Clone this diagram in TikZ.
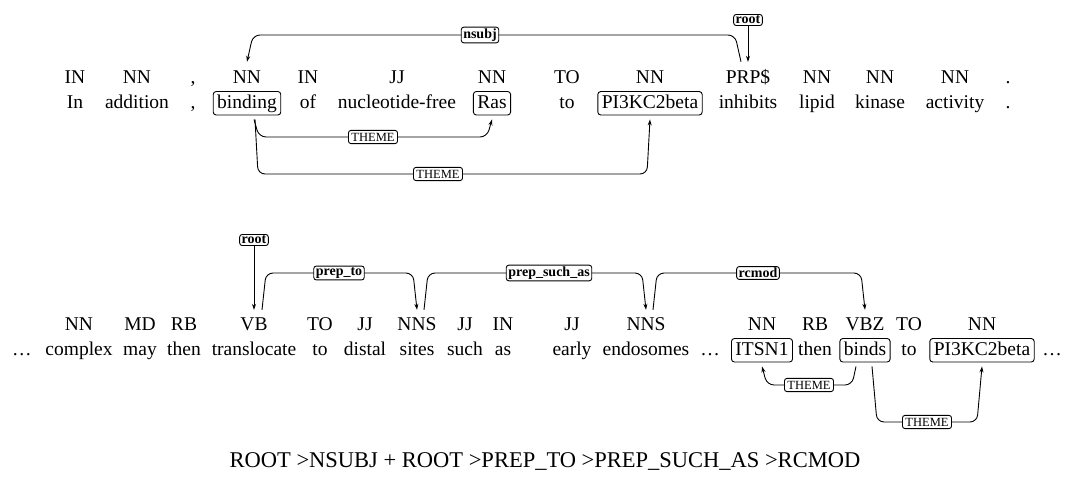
\documentclass[tikz,border=0pt]{standalone}
\usepackage{fontspec}
\setmainfont{Liberation Serif}
\usetikzlibrary{arrows.meta,calc}
\begin{document}
\begin{tikzpicture}[x=1pt,y=-1pt,
  wd/.style={anchor=base,inner sep=0pt,font=\fontsize{19.5}{22}\selectfont,text height=14pt,text depth=4.5pt},
  tg/.style={wd},
  bx/.style={draw,rounded corners=3pt,inner xsep=4pt,inner ysep=2.5pt,line width=0.9pt},
  dep/.style={line width=0.9pt,rounded corners=7pt,-{Stealth[length=6pt,width=4pt]}},
  lab/.style={draw,fill=white,rounded corners=2.5pt,inner xsep=2pt,inner ysep=1.5pt,font=\fontsize{14}{16}\selectfont\bfseries,line width=0.9pt},
  thm/.style={lab,font=\fontsize{12.5}{14}\selectfont,inner ysep=2.5pt,inner xsep=3pt}]
\fill[white] (0,0) rectangle (1088,482);
\useasboundingbox (0,0) rectangle (1088,482);
% levels
\coordinate (LA) at (0,35);
\coordinate (LB) at (0,137);
\coordinate (LC) at (0,174);
\coordinate (LD) at (0,273);
\coordinate (LE) at (0,385);
\coordinate (LF) at (0,422);
% ---------- top sentence ----------
\node[tg] (g1) at (75,83) {IN};      \node[wd] (w1) at (75,108) {In};
\node[tg] (g2) at (137,83) {NN};     \node[wd] (w2) at (137,108) {addition};
\node[tg] (g3) at (193,83) {,};      \node[wd] (w3) at (193,108) {,};
\node[tg] (g4) at (247,83) {NN};     \node[wd,bx] (w4) at (247,108) {binding};
\node[tg] (g5) at (308,83) {IN};     \node[wd] (w5) at (308,108) {of};
\node[tg] (g6) at (397,83) {JJ};     \node[wd] (w6) at (397,108) {nucleotide-free};
\node[tg] (g7) at (492,83) {NN};     \node[wd,bx] (w7) at (492,108) {Ras};
\node[tg] (g8) at (567,83) {TO};     \node[wd] (w8) at (567,108) {to};
\node[tg] (g9) at (650,83) {NN};     \node[wd,bx] (w9) at (650,108) {PI3KC2beta};
\node[tg] (g10) at (748,83) {PRP\$}; \node[wd] (w10) at (748,108) {inhibits};
\node[tg] (g11) at (817,83) {NN};    \node[wd] (w11) at (817,108) {lipid};
\node[tg] (g12) at (880,83) {NN};    \node[wd] (w12) at (880,108) {kinase};
\node[tg] (g13) at (955,83) {NN};    \node[wd] (w13) at (955,108) {activity};
\node[tg] (g14) at (1008,83) {.};    \node[wd] (w14) at (1008,108) {.};
% edges top
\draw[dep] ([xshift=-7pt,yshift=7pt]g10.north) -- ([xshift=-13pt]g10.north |- LA) -- ([xshift=6pt]g4.north |- LA) -- ([yshift=7pt]g4.north);
\node[lab] (l1) at (480,35) {nsubj};
\node[lab] (r1) at (748,20) {root};
\draw[dep,rounded corners=0pt] (r1) -- ([yshift=7pt]g10.north);
\draw[dep] ([xshift=7pt,yshift=-4pt]w4.south) -- ([xshift=12pt]w4.south |- LB) -- ([xshift=-5pt]w7.south |- LB) -- ([yshift=-4pt]w7.south);
\node[thm] (l2) at (373,137) {THEME};
\draw[dep] ([xshift=8pt,yshift=-4pt]w4.south) -- ([xshift=11pt]w4.south |- LC) -- ([xshift=-3pt]w9.south |- LC) -- ([yshift=-4pt]w9.south);
\node[thm] (l3) at (438,174) {THEME};
% ---------- bottom sentence ----------
\node[wd] (v1) at (22,355) {\ldots};
\node[tg] (h2) at (79,330) {NN};    \node[wd] (v2) at (79,355) {complex};
\node[tg] (h3) at (140,330) {MD};   \node[wd] (v3) at (140,355) {may};
\node[tg] (h4) at (184,330) {RB};   \node[wd] (v4) at (184,355) {then};
\node[tg] (h5) at (254,330) {VB};   \node[wd] (v5) at (254,355) {translocate};
\node[tg] (h6) at (320,330) {TO};   \node[wd] (v6) at (320,355) {to};
\node[tg] (h7) at (365,330) {JJ};   \node[wd] (v7) at (365,355) {distal};
\node[tg] (h8) at (417,330) {NNS};  \node[wd] (v8) at (417,355) {sites};
\node[tg] (h9) at (465,330) {JJ};   \node[wd] (v9) at (465,355) {such};
\node[tg] (h10) at (503,330) {IN};  \node[wd] (v10) at (503,355) {as};
\node[tg] (h11) at (572,330) {JJ};  \node[wd] (v11) at (572,355) {early};
\node[tg] (h12) at (646,330) {NNS}; \node[wd] (v12) at (646,355) {endosomes};
\node[wd] (v13) at (710,355) {\ldots};
\node[tg] (h14) at (762,330) {NN};  \node[wd,bx] (v14) at (762,355) {ITSN1};
\node[tg] (h15) at (815,330) {RB};  \node[wd] (v15) at (815,355) {then};
\node[tg] (h16) at (865,330) {VBZ}; \node[wd,bx] (v16) at (865,355) {binds};
\node[tg] (h17) at (909,330) {TO};  \node[wd] (v17) at (909,355) {to};
\node[tg] (h18) at (982,330) {NN};  \node[wd,bx] (v18) at (982,355) {PI3KC2beta};
\node[wd] (v19) at (1052,355) {\ldots};
% edges bottom
\node[lab] (r2) at (254,240) {root};
\draw[dep,rounded corners=0pt] (r2) -- ([yshift=6pt]h5.north);
\draw[dep] ([xshift=8pt,yshift=6pt]h5.north) -- ([xshift=12pt]h5.north |- LD) -- ([xshift=-4pt]h8.north |- LD) -- ([yshift=6pt]h8.north);
\node[lab] (l4) at (339,273) {prep\_to};
\draw[dep] ([xshift=7pt,yshift=6pt]h8.north) -- ([xshift=11pt]h8.north |- LD) -- ([xshift=-4pt]h12.north |- LD) -- ([yshift=6pt]h12.north);
\node[lab] (l5) at (549,273) {prep\_such\_as};
\draw[dep] ([xshift=7pt,yshift=6pt]h12.north) -- ([xshift=11pt]h12.north |- LD) -- ([xshift=-4pt]h16.north |- LD) -- ([yshift=6pt]h16.north);
\node[lab] (l6) at (758,273) {rcmod};
\draw[dep] ([xshift=-9pt,yshift=-4pt]v16.south) -- ([xshift=-13pt]v16.south |- LE) -- ([xshift=5pt]v14.south |- LE) -- ([yshift=-4pt]v14.south);
\node[thm] (l7) at (809,385) {THEME};
\draw[dep] ([xshift=7pt,yshift=-4pt]v16.south) -- ([xshift=12pt]v16.south |- LF) -- ([xshift=-5pt]v18.south |- LF) -- ([yshift=-4pt]v18.south);
\node[thm] (l8) at (927,422) {THEME};
% formula
\node[anchor=base,inner sep=0pt,font=\fontsize{22.5}{26}\selectfont] (f) at (545,467) {ROOT >NSUBJ + ROOT >PREP\_TO >PREP\_SUCH\_AS >RCMOD};
\end{tikzpicture}
\end{document}
